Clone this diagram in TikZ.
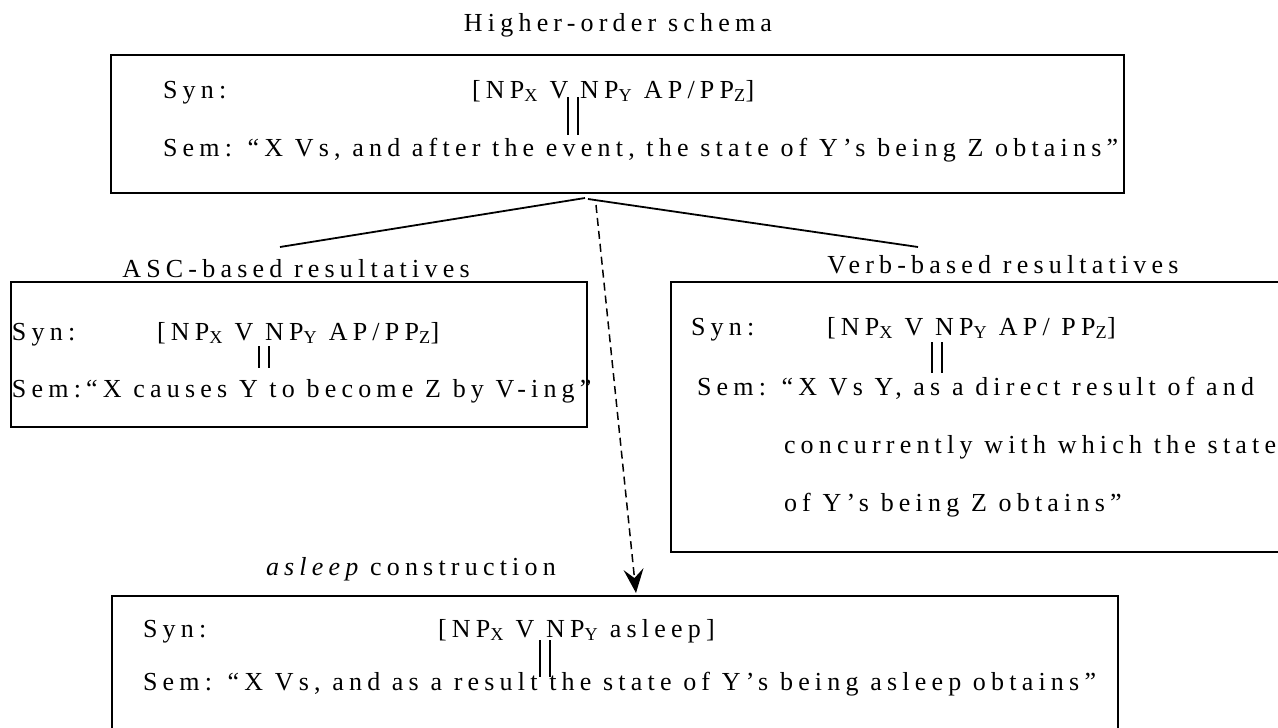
\documentclass[tikz,border=0pt]{standalone}
\usepackage{fontspec}
\setmainfont{Liberation Serif}[LetterSpace=20]
\usetikzlibrary{arrows.meta}
\tikzset{
  txt/.style={inner sep=0pt, outer sep=0pt, anchor=base west, font=\fontsize{26}{30}\selectfont},
  title/.style={inner sep=0pt, outer sep=0pt, anchor=base, font=\fontsize{26}{30}\selectfont},
  frame/.style={draw, rectangle, line width=1.8pt, inner sep=0pt, outer sep=0pt},
  link/.style={line width=1.8pt},
  dlink/.style={line width=1.5pt, dash pattern=on 8pt off 5pt,
    -{Stealth[length=24pt, width=20pt, inset=9pt]}},
  bar/.style={line width=1.5pt}
}
\begin{document}
\begin{tikzpicture}[x=1pt, y=-1pt]
\useasboundingbox (0,0) rectangle (1278,728);
\begin{scope}
\clip (0,0) rectangle (1278,728);

% ---- higher-order schema ----
\node[title] (hlab) at (618,31) {Higher-order schema};
\node[frame, minimum width=1013pt, minimum height=138pt] (hbox) at (617.5,124) {};
\node[txt] (hsyn) at (163,98) {Syn:};
\node[txt] (hform) at (472,98) {[NP\textsubscript{X} V NP\textsubscript{Y} AP/PP\textsubscript{Z}]};
\node[txt] (hsem) at (163,156) {Sem: “X Vs, and after the event, the state of Y’s being Z obtains”};
\draw[bar] (568,97) -- (568,135) (578,97) -- (578,135);

% ---- ASC-based resultatives ----
\node[title] (alab) at (296,277) {ASC-based resultatives};
\node[frame, minimum width=576pt, minimum height=145pt] (abox) at (299,354.5) {};
\node[txt] (asyn) at (12,340) {Syn:};
\node[txt] (aform) at (157,340) {[NP\textsubscript{X} V NP\textsubscript{Y} AP/PP\textsubscript{Z}]};
\node[txt] (asem) at (12,397) {Sem:“X causes Y to become Z by V-ing”};
\draw[bar] (259,346) -- (259,368) (269,346) -- (269,368);

% ---- verb-based resultatives ----
\node[title] (vlab) at (1003,273) {Verb-based resultatives};
\node[frame, minimum width=669pt, minimum height=270pt] (vbox) at (1005.5,417) {};
\node[txt] (vsyn) at (691,335) {Syn:};
\node[txt] (vform) at (827,335) {[NP\textsubscript{X} V NP\textsubscript{Y} AP/ PP\textsubscript{Z}]};
\node[txt] (vsem) at (697,395) {Sem: “X Vs Y, as a direct result of and};
\node[txt] (vsemb) at (784,453) {concurrently with which the state};
\node[txt] (vsemc) at (784,511) {of Y’s being Z obtains”};
\draw[bar] (932,342) -- (932,373) (942,342) -- (942,373);

% ---- asleep construction ----
\node[txt] (slab) at (266,575) {\itshape asleep\upshape{} construction};
\node[frame, minimum width=1006pt, minimum height=170pt] (sbox) at (615,681) {};
\node[txt] (ssyn) at (143,637) {Syn:};
\node[txt] (sform) at (438,637) {[NP\textsubscript{X} V NP\textsubscript{Y} asleep]};
\node[txt] (ssem) at (143,690) {Sem: “X Vs, and as a result the state of Y’s being asleep obtains”};
\draw[bar] (540,640) -- (540,677) (550,640) -- (550,677);

% ---- connectors ----
\coordinate (apexl) at (585,198);
\coordinate (apexr) at (588,199);
\coordinate (aend) at (280,247);
\coordinate (vend) at (918,247);
\coordinate (dstart) at (596,205);
\coordinate (dend) at (636,593);
\draw[link] (apexl) -- (aend);
\draw[link] (apexr) -- (vend);
\draw[dlink] (dstart) -- (dend);
\end{scope}
\end{tikzpicture}
\end{document}
